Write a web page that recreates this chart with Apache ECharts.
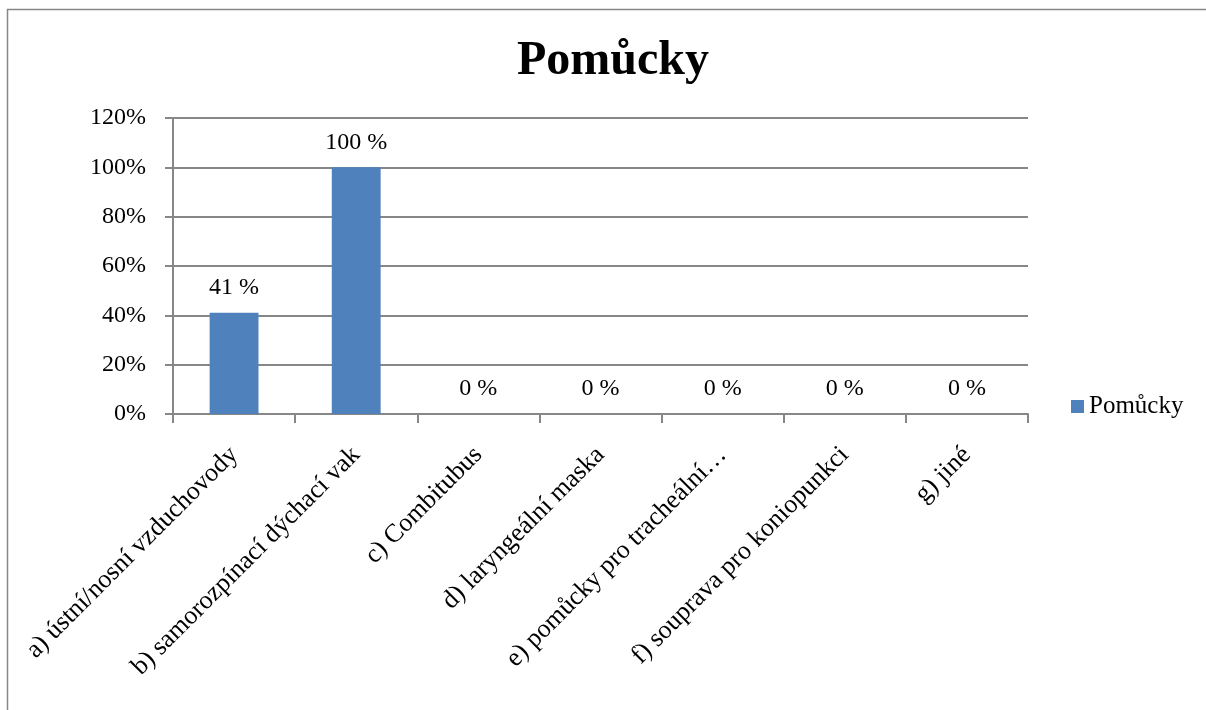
<!DOCTYPE html>
<html>
<head>
<meta charset="utf-8">
<script src="https://cdn.jsdelivr.net/npm/echarts@6/dist/echarts.min.js"></script>
<style>
  html, body { margin: 0; padding: 0; background: #fff; }
  #main { width: 1206px; height: 710px; }
</style>
</head>
<body>
<div id="main"></div>
<script>
// kategorie a hodnoty (v %)
var categories = [
  "a) ústní/nosní vzduchovody",
  "b) samorozpínací dýchací vak",
  "c) Combitubus",
  "d) laryngeální maska",
  "e) pomůcky pro tracheální…",
  "f) souprava pro koniopunkci",
  "g) jiné"
];
var values = [41, 100, 0, 0, 0, 0, 0];
var seriesName = "Pomůcky";
var yTicks = [0, 20, 40, 60, 80, 100, 120];

var font = "'Liberation Serif', 'Times New Roman', serif";
var gray = "#878787";

var myChart = echarts.init(document.getElementById("main"));
var option = {
  animation: false,
  backgroundColor: "#fff",
  textStyle: { fontFamily: font },
  title: {
    text: "Pomůcky",
    left: 512,
    top: 33,
    textStyle: { fontFamily: font, fontSize: 48, fontWeight: "bold", color: "#000" }
  },
  legend: {
    data: [seriesName],
    left: 1066,
    top: 389,
    icon: "rect",
    itemWidth: 13,
    itemHeight: 13,
    itemGap: 6,
    textStyle: { fontFamily: font, fontSize: 25, color: "#000", padding: [0, 0, 0, 0] }
  },
  grid: { left: 173, right: 178, top: 118, bottom: 296 },
  xAxis: {
    type: "category",
    data: categories,
    axisLine: { lineStyle: { color: gray, width: 2 } },
    axisTick: { show: true, length: 9, lineStyle: { color: gray, width: 2 } },
    axisLabel: {
      interval: 0,
      rotate: 45,
      margin: 37,
      fontFamily: font,
      fontSize: 26,
      color: "#000"
    }
  },
  yAxis: {
    type: "value",
    min: yTicks[0],
    max: yTicks[yTicks.length - 1],
    interval: 20,
    axisLine: { show: true, lineStyle: { color: gray, width: 2 } },
    axisTick: { show: true, length: 8, lineStyle: { color: gray, width: 2 } },
    splitLine: { lineStyle: { color: gray, width: 2 } },
    axisLabel: {
      formatter: "{value}%",
      margin: 27,
      fontFamily: font,
      fontSize: 24,
      color: "#000"
    }
  },
  series: [
    {
      name: seriesName,
      type: "bar",
      data: values,
      barWidth: "40%",
      itemStyle: { color: "#4F81BD" },
      label: {
        show: true,
        position: "top",
        distance: 13,
        formatter: "{c} %",
        fontFamily: font,
        fontSize: 24,
        color: "#000"
      }
    }
  ],
  graphic: [
    {
      type: "polyline",
      shape: { points: [[7.5, 710], [7.5, 9.5], [1206, 9.5]] },
      style: { stroke: gray, lineWidth: 1.5, fill: null }
    }
  ]
};
myChart.setOption(option);
</script>
</body>
</html>
